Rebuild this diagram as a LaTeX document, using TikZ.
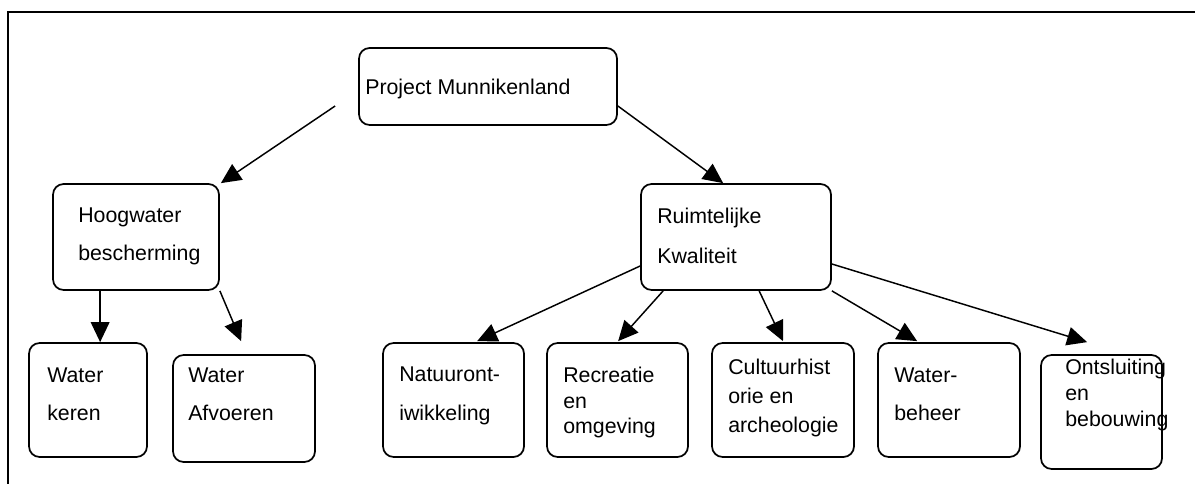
\documentclass[tikz,border=0pt]{standalone}
\usepackage{fontspec}
\setmainfont{Liberation Sans}
\usetikzlibrary{arrows.meta,calc}
\begin{document}
\begin{tikzpicture}[x=0.75pt,y=-0.75pt,
  rbox/.style n args={2}{draw, line width=1.3pt, rounded corners=8pt, inner sep=0pt,
    minimum width=#1*0.75pt, minimum height=#2*0.75pt},
  txt/.style={anchor=north west, inner sep=0pt, align=left, font=\fontsize{16pt}{#1}\selectfont},
  arr/.style={line width=1.1pt, -{Triangle[length=15pt,width=14pt]}},
  frame/.style={line width=1.5pt}]
\useasboundingbox (0,0) rectangle (1195,484);
\draw[frame] (1195,12) -- (8,12) -- (8,484);
% boxes
\node[rbox={258}{77}] (P) at (488,86.5) {};
\node[rbox={166}{106}] (H) at (136,237) {};
\node[rbox={190}{106}] (R) at (736,237) {};
\node[rbox={118}{114}] (K) at (88,400) {};
\node[rbox={142}{107}] (A) at (244,408.5) {};
\node[rbox={141}{114}] (N) at (453.5,400) {};
\node[rbox={141}{114}] (Rc) at (617.5,400) {};
\node[rbox={142}{114}] (C) at (783,400) {};
\node[rbox={142}{114}] (W) at (949,400) {};
\node[rbox={121}{114}] (O) at (1101.5,412) {};
% texts
\node[txt=19pt] (tP) at (365,79) {Project Munnikenland};
\node[txt=28.5pt] (tH) at (78,208) {Hoogwater\\bescherming};
\node[txt=30pt] (tR) at (657,208) {Ruimtelijke\\Kwaliteit};
\node[txt=28.5pt] (tK) at (47,368) {Water\\keren};
\node[txt=28.5pt] (tA) at (188,368) {Water\\Afvoeren};
\node[txt=29pt] (tN) at (399,367) {Natuuront-\\iwikkeling};
\node[txt=19pt] (tRc) at (563,367) {Recreatie\\en\\omgeving};
\node[txt=21.75pt] (tC) at (728,359) {Cultuurhist\\orie en\\archeologie};
\node[txt=28.5pt] (tW) at (894,368) {Water-\\beheer};
\node[txt=19.5pt] (tO) at (1065,359) {Ontsluiting\\en\\bebouwing};
% connectors
\draw[arr] ($(P.west)+(-23,19.5)$) -- ($(H.north east)+(1,0)$);
\draw[arr] ($(P.east)+(0,19.5)$) -- ($(R.north west)+(83,0)$);
\draw[arr] ($(H.south west)+(48,0)$) -- ($(K.north west)+(72,0)$);
\draw[arr] (H.south east) -- ($(A.north west)+(69,-13)$);
\draw[arr] ($(R.west)+(0,29)$) -- ($(N.north west)+(95,-1)$);
\draw[arr] ($(R.south west)+(23,0)$) -- ($(Rc.north west)+(72,-1)$);
\draw[arr] ($(R.south west)+(119,0)$) -- ($(C.north)+(0,-1)$);
\draw[arr] (R.south east) -- ($(W.north west)+(40,-1)$);
\draw[arr] ($(R.east)+(0,27)$) -- ($(O.north west)+(47,-12)$);
\end{tikzpicture}
\end{document}
